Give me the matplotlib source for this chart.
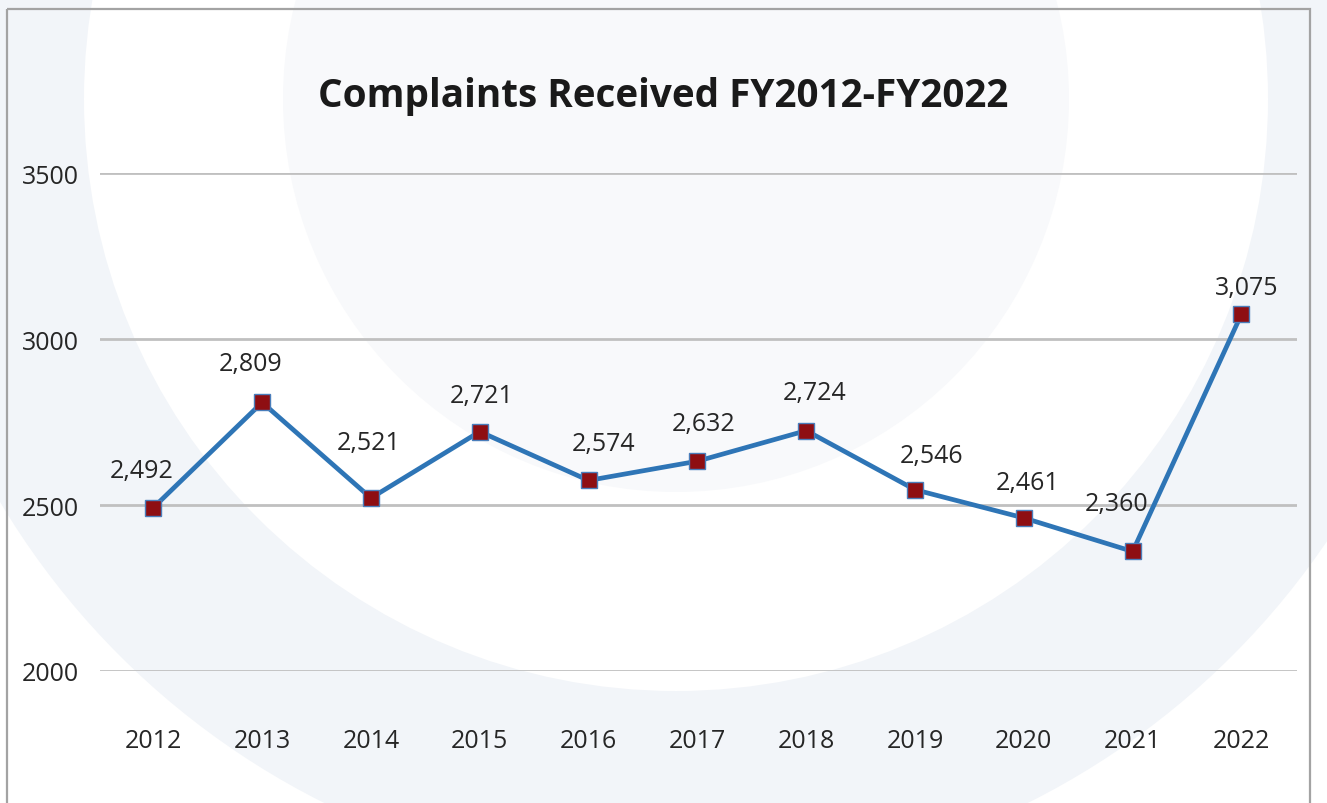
import matplotlib
matplotlib.use("Agg")
import matplotlib.pyplot as plt
from matplotlib.patches import Circle, Rectangle

years = ["2012", "2013", "2014", "2015", "2016", "2017", "2018", "2019", "2020", "2021", "2022"]
complaints = [2492, 2809, 2521, 2721, 2574, 2632, 2724, 2546, 2461, 2360, 3075]
yticks = [2000, 2500, 3000, 3500]

# label nudges (pixels) as placed in the original chart
label_dx = [-12, -12, -2, 2, 15, 6, 8, 17, 4, -16, 5]
label_dy = [37, 39, 56, 36, 37, 38, 38, 34, 35, 48, 27]

plt.rcParams['font.family'] = ['Open Sans', 'DejaVu Sans']
text_color = "#262626"

fig = plt.figure(figsize=(13.27, 8.04), dpi=100)

# decorative background rings, in pixel coordinates
bg = fig.add_axes([0, 0, 1, 1])
bg.set_xlim(0, 1327)
bg.set_ylim(804, 0)
bg.axis("off")
bg.add_patch(Circle((676, 100), 787, color="#f2f5f9", lw=0))
bg.add_patch(Circle((676, 100), 592, color="white", lw=0))
bg.add_patch(Circle((676, 100), 393, color="#f8f9fb", lw=0))
bg.add_patch(Rectangle((7, 10), 1303, 900, fill=False, edgecolor="#a3a3a3", lw=1.6))

ax = fig.add_axes([0.07536, 0.16418, 0.90203, 0.61940])
ax.patch.set_alpha(0)
x = list(range(len(years)))
ax.plot(x, complaints, color="#2e75b6", lw=3.4, marker="s", markersize=11,
        markerfacecolor="#8e0e12", markeredgecolor="#4a7ebb", markeredgewidth=1,
        zorder=3, clip_on=False)
for i in range(len(years)):
    ax.annotate(f"{complaints[i]:,}", (x[i], complaints[i]),
                xytext=(label_dx[i] * 0.72, label_dy[i] * 0.72),
                textcoords="offset points", ha="center", va="center",
                fontsize=18, color=text_color)

ax.set_xlim(-0.49, 10.51)
ax.set_ylim(2000, 3500)
ax.set_yticks(yticks)
ax.set_xticks(x)
ax.set_xticklabels(years)
ax.grid(axis="y", color="#c0c0c0", lw=2)
ax.set_axisbelow(True)
for s in ax.spines.values():
    s.set_visible(False)
ax.tick_params(axis="both", length=0, labelsize=18, labelcolor=text_color)
ax.tick_params(axis="y", pad=15)
ax.tick_params(axis="x", pad=41)

fig.text(663 / 1327, 1 - 97 / 804, "Complaints Received FY2012-FY2022",
         ha="center", va="center", fontsize=27.8, fontweight="bold", color="#1a1a1a")

fig.savefig("out.png", dpi=100)
